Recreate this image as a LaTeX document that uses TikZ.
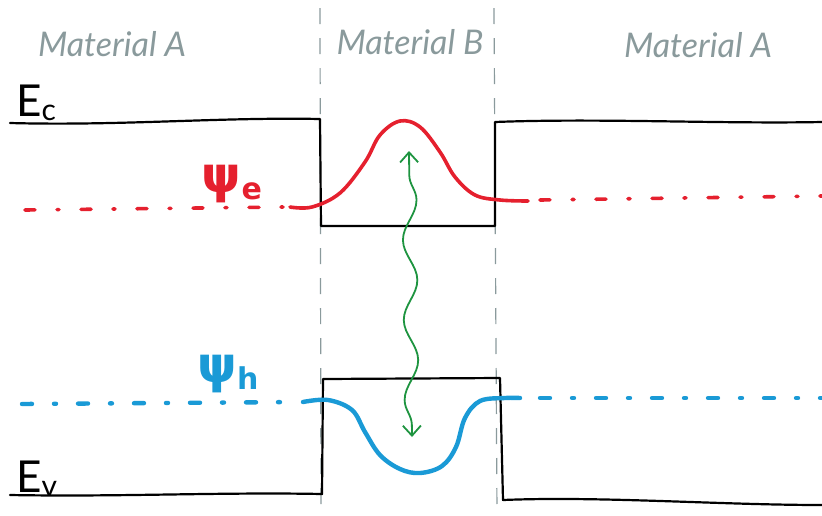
\documentclass[tikz,border=0pt]{standalone}
\usepackage{fontspec}
\setmainfont{Lato}
\newfontfamily\greekf{DejaVu Sans}
\usetikzlibrary{arrows.meta,decorations.pathmorphing}
\definecolor{matgray}{HTML}{8A9A9C}
\definecolor{psired}{HTML}{E5202E}
\definecolor{psiblue}{HTML}{1A9AD6}
\definecolor{photon}{HTML}{1E9440}
\tikzset{
  band/.style={black, line width=2.2pt, line join=round, line cap=round},
  divider/.style={matgray, line width=1.2pt, dash pattern=on 16pt off 14pt},
  matlabel/.style={matgray, font=\itshape\fontsize{34}{36}\selectfont, inner sep=0pt},
  elabel/.style={black, font=\fontsize{44}{46}\selectfont, inner sep=0pt},
  psie/.style={psired, line width=3.6pt, line cap=round},
  psih/.style={psiblue, line width=4.4pt, line cap=round},
  tail/.style={dash pattern=on 10pt off 22pt on 2pt off 22pt},
  psilabel/.style={font=\greekf\bfseries\fontsize{50}{52}\selectfont, inner sep=0pt},
  wavy/.style={photon, line width=1.8pt, {Straight Barb[length=10pt,width=18pt]}-{Straight Barb[length=10pt,width=18pt]},
    decorate, decoration={snake, amplitude=7pt, segment length=80pt, pre length=12pt, post length=12pt}}
}
\begin{document}
\begin{tikzpicture}[x=1pt,y=-1pt]
\useasboundingbox (0,0) rectangle (822,515);
% material dividers
\draw[divider] (320,8) -- (321,515);
\draw[divider] (494,8) -- (497,515);
% labels
\node[matlabel] (mA1) at (112,44) {Material A};
\node[matlabel] (mB) at (410,42) {Material B};
\node[matlabel] (mA2) at (698,45) {Material A};
\node[elabel,anchor=base west] (Ec) at (16,116) {E\raisebox{-4pt}{\fontsize{30}{32}\selectfont c}};
\node[elabel,anchor=base west] (Ev) at (16,492) {E\raisebox{-4pt}{\fontsize{30}{32}\selectfont v}};
% conduction band
\draw[band] (10,123) .. controls (120,126) and (220,117) .. (320,119) -- (321,226)
  -- (495,226) -- (495,122) .. controls (600,118) and (720,124) .. (822,122);
% valence band
\draw[band] (10,495) .. controls (120,497) and (220,492) .. (322,494) -- (323,379)
  -- (500,378) -- (503,500) .. controls (600,496) and (720,505) .. (822,505);
% electron wavefunction
\draw[psie,tail] (25,210) -- (285,207);
\draw[psie] plot[smooth,tension=0.6] coordinates {(290,207) (312,207) (340,193) (365,162) (380,135) (400,121) (420,127) (440,152) (455,177) (475,195) (500,200) (528,201)};
\draw[psie,tail] (540,200) -- (822,196);
\node[psilabel,psired,anchor=base] (pe) at (232,192) {ψ\raisebox{-7pt}{\fontsize{30}{32}\selectfont e}};
% hole wavefunction
\draw[psih,tail] (22,404) -- (298,402);
\draw[psih] plot[smooth,tension=0.6] coordinates {(303,402) (328,400) (352,410) (365,432) (380,455) (400,469) (420,473) (442,466) (456,447) (465,418) (480,401) (505,398) (520,398)};
\draw[psih,tail] (540,398) -- (822,398);
\node[psilabel,psiblue,anchor=base] (ph) at (228,382) {ψ\raisebox{-7pt}{\fontsize{30}{32}\selectfont h}};
% photon
\coordinate (top) at (409,151);
\coordinate (bot) at (412,437);
\draw[wavy] (bot) -- (top);
\end{tikzpicture}
\end{document}
